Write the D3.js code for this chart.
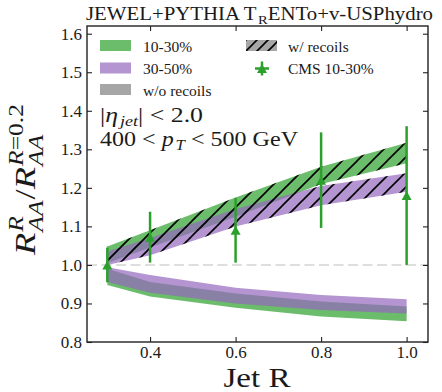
<!DOCTYPE html>
<html>

<head>
    <script src="https://cdn.jsdelivr.net/npm/d3@7/dist/d3.min.js"></script>
    <style>
        body {
            margin: 0;
            background: white;
        }

        svg text {
            font-family: "Liberation Serif", "DejaVu Serif", serif;
            fill: #1a1a1a;
            white-space: pre;
        }
    </style>
</head>

<body>
    <div id="vis"></div>
</body>
<script>
    /* Data */
    var jetR = [0.3, 0.4, 0.6, 0.8, 1.0];

    // with recoils (hatched bands)
    var rec1030Lo = [1.005, 1.045, 1.125, 1.210, 1.264];
    var rec1030Hi = [1.048, 1.090, 1.175, 1.255, 1.317];
    var rec3050Lo = [1.000, 1.025, 1.100, 1.155, 1.190];
    var rec3050Hi = [1.035, 1.070, 1.145, 1.205, 1.238];

    // without recoils (plain bands)
    var noRec1030Lo = [0.948, 0.918, 0.889, 0.866, 0.854];
    var noRec1030Hi = [0.990, 0.956, 0.926, 0.905, 0.892];
    var noRec3050Lo = [0.956, 0.928, 0.900, 0.883, 0.874];
    var noRec3050Hi = [0.994, 0.974, 0.941, 0.922, 0.911];

    // CMS 10-30%
    var cmsVal = [1.000, 1.072, 1.090, 1.220, 1.180];
    var cmsErr = [0.045, 0.066, 0.084, 0.124, 0.180];

    var xTicks = [0.4, 0.6, 0.8, 1.0];
    var yTicks = [0.8, 0.9, 1.0, 1.1, 1.2, 1.3, 1.4, 1.5, 1.6];

    var green = "#2ca02c", purple = "#9467bd", grey = "#808080";

    /* Layout */
    var W = 442, H = 392;
    var margin = { top: 26, right: 14, bottom: 50, left: 87 },
        width = W - margin.left - margin.right,
        height = H - margin.top - margin.bottom;

    var svg = d3.select("#vis").append("svg")
        .attr("width", W).attr("height", H);

    var defs = svg.append("defs");
    var hatch = defs.append("pattern")
        .attr("id", "hatch")
        .attr("patternUnits", "userSpaceOnUse")
        .attr("width", 15).attr("height", 15);
    hatch.append("path")
        .attr("d", "M-4,4 L4,-4 M0,15 L15,0 M11,19 L19,11")
        .attr("stroke", "black").attr("stroke-width", 1.6);
    var hatchSmall = defs.append("pattern")
        .attr("id", "hatchSmall")
        .attr("patternUnits", "userSpaceOnUse")
        .attr("width", 11).attr("height", 11);
    hatchSmall.append("path")
        .attr("d", "M-3,3 L3,-3 M0,11 L11,0 M8,14 L14,8")
        .attr("stroke", "black").attr("stroke-width", 1.6);

    var g = svg.append("g")
        .attr("transform", "translate(" + margin.left + "," + margin.top + ")");

    /* Scales */
    var x = d3.scaleLinear().domain([0.2525, 1.05]).range([0, width]);
    var y = d3.scaleLinear().domain([0.8, 1.62]).range([height, 0]);

    /* helpers for math-like text */
    function addSegs(t, segs) {
        segs.forEach(function (s) {
            t.append("tspan").text(s[0]).style("font-style", s[1] ? "italic" : "normal");
        });
    }
    // one text element; subscripts done with dy shifts
    function inlineText(parent, px, py, size, segs, target) {
        var t = parent.append("text").attr("x", px).attr("y", py).style("font-size", size + "px");
        var shift = 0;
        segs.forEach(function (s) {
            var sub = s[2] ? 0.2 * size : 0;
            t.append("tspan").text(s[0])
                .attr("dy", sub - shift)
                .attr("dx", s[2] ? 0.08 * size : null)
                .style("font-style", s[1] ? "italic" : "normal")
                .style("font-size", s[2] ? 0.7 * size + "px" : null);
            shift = sub;
        });
        if (target) t.attr("textLength", target).attr("lengthAdjust", "spacingAndGlyphs");
        return t;
    }
    // stacked sup/sub version (for the y label)
    function mathText(parent, size, parts, target) {
        var outer = parent.append("g");
        var inner = outer.append("g");
        var cx = 0;
        parts.forEach(function (p) {
            if (p.t) {
                var t = inner.append("text").attr("x", cx).attr("y", 0).style("font-size", size + "px");
                addSegs(t, p.t);
                cx += t.node().getComputedTextLength();
            } else {
                var w = 0;
                cx += 0.03 * size;
                if (p.sup) {
                    var ts = inner.append("text").attr("x", cx).attr("y", -0.4 * size).style("font-size", 0.7 * size + "px");
                    addSegs(ts, p.sup);
                    w = Math.max(w, ts.node().getComputedTextLength());
                }
                if (p.sub) {
                    var tb = inner.append("text").attr("x", cx).attr("y", 0.27 * size).style("font-size", 0.7 * size + "px");
                    addSegs(tb, p.sub);
                    w = Math.max(w, tb.node().getComputedTextLength());
                }
                cx += w + 0.03 * size;
            }
        });
        if (target) inner.attr("transform", "scale(" + (target / cx) + ",1)");
        return outer;
    }

    /* Reference line at 1 */
    g.append("line")
        .attr("x1", 0).attr("x2", width)
        .attr("y1", y(1)).attr("y2", y(1))
        .attr("stroke", "#dedede").attr("stroke-width", 2)
        .attr("stroke-dasharray", "10,4.5");

    /* Bands */
    function band(lo, hi) {
        return jetR.map(function (r, i) { return { r: r, lo: lo[i], hi: hi[i] }; });
    }
    var area = d3.area()
        .x(function (d) { return x(d.r); })
        .y0(function (d) { return y(d.lo); })
        .y1(function (d) { return y(d.hi); });

    var bands = [
        { data: band(rec1030Lo, rec1030Hi), color: green, hatched: true },
        { data: band(rec3050Lo, rec3050Hi), color: purple, hatched: true },
        { data: band(noRec1030Lo, noRec1030Hi), color: green, hatched: false },
        { data: band(noRec3050Lo, noRec3050Hi), color: purple, hatched: false }
    ];
    bands.forEach(function (b) {
        g.append("path").datum(b.data)
            .attr("d", area)
            .attr("fill", b.color).attr("fill-opacity", 0.7);
        if (b.hatched) {
            g.append("path").datum(b.data)
                .attr("d", area)
                .attr("fill", "url(#hatch)");
        }
    });

    /* CMS points */
    var cms = jetR.map(function (r, i) { return { r: r, v: cmsVal[i], e: cmsErr[i] }; });
    g.selectAll(".err").data(cms).enter().append("line")
        .attr("x1", function (d) { return x(d.r); })
        .attr("x2", function (d) { return x(d.r); })
        .attr("y1", function (d) { return y(d.v - d.e); })
        .attr("y2", function (d) { return y(d.v + d.e); })
        .attr("stroke", green).attr("stroke-width", 2.5);
    var tri = "M0,-4.5 L5,4.5 L-5,4.5 Z";
    g.selectAll(".mk").data(cms).enter().append("path")
        .attr("d", tri)
        .attr("transform", function (d) { return "translate(" + x(d.r) + "," + y(d.v) + ")"; })
        .attr("fill", green);

    /* Axes */
    var fmt = d3.format(".1f");
    var axB = g.append("g").attr("transform", "translate(0," + height + ")")
        .call(d3.axisBottom(x).tickValues(xTicks).tickFormat(fmt).tickSizeInner(-5).tickSizeOuter(0).tickPadding(3.5));
    var axL = g.append("g")
        .call(d3.axisLeft(y).tickValues(yTicks).tickFormat(fmt).tickSizeInner(-5).tickSizeOuter(0).tickPadding(5));
    var axT = g.append("g")
        .call(d3.axisTop(x).tickValues(xTicks).tickFormat("").tickSizeInner(-5).tickSizeOuter(0));
    var axR = g.append("g").attr("transform", "translate(" + width + ",0)")
        .call(d3.axisRight(y).tickValues(yTicks).tickFormat("").tickSizeInner(-5).tickSizeOuter(0));
    [axB, axL, axT, axR].forEach(function (a) {
        a.attr("font-family", null);
        a.select(".domain").remove();
        a.selectAll(".tick line").attr("stroke", "#222").attr("stroke-width", 1.1);
        a.selectAll(".tick text").style("font-size", "17px").attr("fill", "#2a2a2a");
    });
    g.append("rect")
        .attr("width", width).attr("height", height)
        .attr("fill", "none").attr("stroke", "#222").attr("stroke-width", 1.4);

    /* Title */
    inlineText(svg, 86, 20, 18, [
        ["JEWEL+PYTHIA T"], ["R", 0, 1], ["ENTo+v-USPhydro"]
    ], 347);

    /* Axis labels */
    svg.append("text")
        .attr("x", 257).attr("y", 387)
        .attr("text-anchor", "middle")
        .attr("textLength", 67).attr("lengthAdjust", "spacingAndGlyphs")
        .style("font-size", "28px")
        .text("Jet R");

    mathText(svg, 30, [
        { t: [["R", 1]] },
        { sup: [["R", 1]], sub: [["AA", 1]] },
        { t: [["/"]] },
        { t: [["R", 1]] },
        { sup: [["R", 1], ["=0.2"]], sub: [["AA", 1]] }
    ], 152).attr("transform", "translate(35,255) rotate(-90)");

    /* Annotations */
    inlineText(svg, 100, 122, 22, [
        ["|"], ["η", 1], ["jet", 1, 1], ["| < 2.0"]
    ], 103);
    inlineText(svg, 100, 146, 22, [
        ["400 < "], ["p", 1], ["T", 1, 1], [" < 500 GeV"]
    ], 198);

    /* Legend */
    var leg = svg.append("g");
    var patches = [
        { y: 40, fill: green, label: "10-30%" },
        { y: 62.5, fill: purple, label: "30-50%" },
        { y: 84, fill: grey, label: "w/o recoils" }
    ];
    patches.forEach(function (p) {
        leg.append("rect").attr("x", 100).attr("y", p.y).attr("width", 31).attr("height", 11)
            .attr("fill", p.fill).attr("fill-opacity", 0.7);
        leg.append("text").attr("x", 143).attr("y", p.y + 11.5)
            .style("font-size", "15.5px").text(p.label);
    });
    leg.append("rect").attr("x", 246).attr("y", 40).attr("width", 31).attr("height", 11)
        .attr("fill", grey).attr("fill-opacity", 0.7);
    leg.append("rect").attr("x", 246).attr("y", 40).attr("width", 31).attr("height", 11)
        .attr("fill", "url(#hatchSmall)");
    leg.append("text").attr("x", 288).attr("y", 51.5)
        .style("font-size", "15.5px").text("w/ recoils");

    var mk = leg.append("g").attr("transform", "translate(262,68.5)");
    mk.append("line").attr("x1", 0).attr("x2", 0).attr("y1", -7).attr("y2", 7)
        .attr("stroke", green).attr("stroke-width", 2.5);
    mk.append("line").attr("x1", -7).attr("x2", 7).attr("y1", 0).attr("y2", 0)
        .attr("stroke", green).attr("stroke-width", 2.5);
    mk.append("path").attr("d", tri).attr("fill", green);
    leg.append("text").attr("x", 288).attr("y", 74)
        .style("font-size", "15.5px").text("CMS 10-30%");
</script>

</html>
